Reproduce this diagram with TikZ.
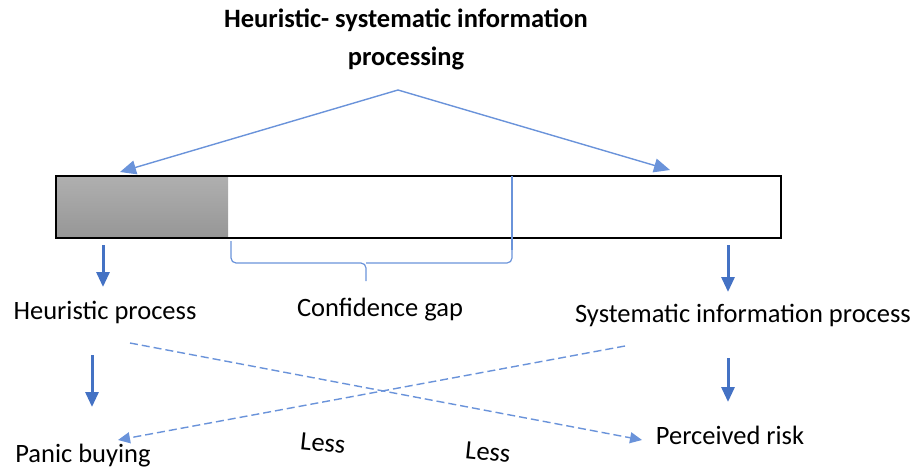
\documentclass[tikz,border=0pt]{standalone}
\usepackage{fontspec}
\setmainfont{Carlito}
\usetikzlibrary{arrows.meta}
\definecolor{bblue}{HTML}{4472C4}
\definecolor{lblue}{HTML}{6A93DA}
\begin{document}
\begin{tikzpicture}[x=1pt,y=-1pt,
  lbl/.style={font=\fontsize{26.5}{30}\selectfont, inner sep=0pt},
  ttl/.style={font=\fontsize{26.5}{30}\selectfont\bfseries, inner sep=0pt},
  thick arrow/.style={draw=bblue, line width=3pt, -{Triangle[length=15pt,width=13pt]}},
  thin arrow/.style={draw=lblue, line width=1.4pt, -{Triangle[length=16pt,width=14pt]}},
  dash arrow/.style={draw=lblue, line width=1.4pt, dash pattern=on 8pt off 4pt, -{Triangle[length=12pt,width=11pt]}}]
\useasboundingbox (0,0) rectangle (917,468);
% title
\node[ttl] (t1) at (406,20) {Heuristic- systematic information};
\node[ttl] (t2) at (406,58) {processing};
\coordinate (apex) at (398,90);
% bar
\shade[top color=gray!62, bottom color=gray!82] (55,175) rectangle (228,237);
\node[draw=black, line width=2.2pt, minimum width=725pt, minimum height=62pt, inner sep=0pt, anchor=north west] (bar) at (55,175) {};
\coordinate (lt) at (120,172);
\coordinate (rt) at (670,170);
\draw[thin arrow] (apex) -- (lt);
\draw[thin arrow] (apex) -- (rt);
\coordinate (gtop) at (512,176);
\coordinate (gbot) at (512,250);
\draw[lblue, line width=1.2pt] (gtop) -- (gbot);
% brace
\coordinate (bl) at (231,241);
\coordinate (br) at (512,241);
\coordinate (btip) at (366,281);
\draw[lblue, line width=1.2pt, rounded corners=5pt] (bl) -- (231,263) -- (366,263) -- (btip);
\draw[lblue, line width=1.2pt, rounded corners=5pt] (br) -- (512,263) -- (366,263);
% labels
\node[lbl] (hp) at (105,312) {Heuristic process};
\node[lbl] (cg) at (380,310) {Confidence gap};
\node[lbl] (sp) at (743,315) {Systematic information process};
\node[lbl] (pb) at (83,456) {Panic buying};
\node[lbl] (pr) at (730,435) {Perceived risk};
\node[lbl, rotate=-6] (l1) at (323,443) {Less};
\node[lbl, rotate=-6] (l2) at (488,452) {Less};
% down arrows
\coordinate (a1s) at (103,245); \coordinate (a1e) at (103,287);
\draw[thick arrow] (a1s) -- (a1e);
\coordinate (a2s) at (728,245); \coordinate (a2e) at (728,292);
\draw[thick arrow] (a2s) -- (a2e);
\coordinate (a3s) at (92,355); \coordinate (a3e) at (92,407);
\draw[thick arrow] (a3s) -- (a3e);
\coordinate (a4s) at (728,358); \coordinate (a4e) at (728,402);
\draw[thick arrow] (a4s) -- (a4e);
% dashed crossing
\coordinate (d1s) at (130,343); \coordinate (d1e) at (642,440);
\draw[dash arrow] (d1s) -- (d1e);
\coordinate (d2s) at (625,346); \coordinate (d2e) at (118,440);
\draw[dash arrow] (d2s) -- (d2e);
\end{tikzpicture}
\end{document}
